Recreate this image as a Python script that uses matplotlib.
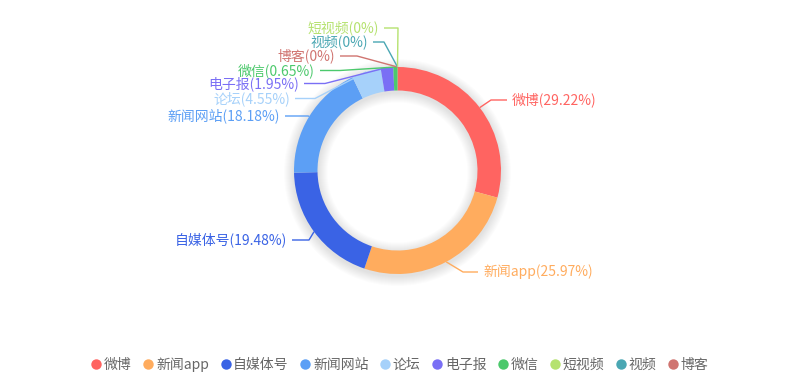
import matplotlib
matplotlib.use("Agg")
import matplotlib.pyplot as plt
from matplotlib.patches import Wedge
from matplotlib.lines import Line2D
import numpy as np

plt.rcParams['font.family'] = ['Noto Sans CJK SC', 'DejaVu Sans']

categories = ['微博', '新闻app', '自媒体号', '新闻网站', '论坛', '电子报', '微信', '博客', '视频', '短视频']
values = [29.22, 25.97, 19.48, 18.18, 4.55, 1.95, 0.65, 0.0, 0.0, 0.0]
colors = ['#FF6461', '#FFAC5E', '#3A63E5', '#5C9FF5', '#A6D1FA', '#7A6FF5', '#4CC96C', '#D07470', '#4AA7B3', '#B5E26F']
legend_order = ['微博', '新闻app', '自媒体号', '新闻网站', '论坛', '电子报', '微信', '短视频', '视频', '博客']

# layout (pixel coordinates, y downwards): text anchor x, y, elbow x, side
label_layout = {
    '微博':   (512, 100, 491, 'left'),
    '新闻app': (483, 272, 463, 'left'),
    '自媒体号': (287, 240, 309, 'right'),
    '新闻网站': (280, 116, 308, 'right'),
    '论坛':   (290, 98.5, 315, 'right'),
    '电子报':  (299, 83.5, 325, 'right'),
    '微信':   (315, 70.5, 340, 'right'),
    '博客':   (335, 56, 357, 'right'),
    '视频':   (368, 42, 384, 'right'),
    '短视频':  (379, 28, 398, 'right'),
}

W, H = 799, 382
fig = plt.figure(figsize=(W / 100, H / 100), dpi=100)
ax = fig.add_axes([0, 0, 1, 1])
ax.set_xlim(0, W)
ax.set_ylim(H, 0)
ax.axis('off')

cx, cy = 397.5, 170.5
R, r = 103.5, 80.0

# soft shadow
for k in range(10, 0, -1):
    ax.add_patch(Wedge((cx, cy + 2), R + k, 0, 360, width=(R - r) + 2 * k,
                       facecolor='black', alpha=0.012, edgecolor='none', zorder=1))

# ring: clockwise from top (y axis inverted)
total = sum(values)
start = -90.0
mids = []
for v, c in zip(values, colors):
    span = v / total * 360.0
    if span > 0:
        ax.add_patch(Wedge((cx, cy), R, start, start + span, width=R - r,
                           facecolor=c, edgecolor='none', zorder=2))
    mids.append(start + span / 2)
    start += span

# labels with leader lines
for cat, v, c, m in zip(categories, values, colors, mids):
    tx, ty, ex, side = label_layout[cat]
    ang = np.deg2rad(m)
    px, py = cx + R * np.cos(ang), cy + R * np.sin(ang)
    hx = tx - 5 if side == 'left' else tx + 5
    ax.plot([px, ex, hx], [py, ty, ty], color=c, lw=1, zorder=3, solid_capstyle='butt')
    ha = 'left' if side == 'left' else 'right'
    ax.text(tx, ty, f'{cat}({v:g}%)', color=c, fontsize=10,
            ha=ha, va='center', zorder=4)

# legend
cmap = dict(zip(categories, colors))
handles = [Line2D([0], [0], marker='o', linestyle='none', markersize=7.5,
                  markerfacecolor=cmap[n], markeredgecolor='none') for n in legend_order]
leg = fig.legend(handles, legend_order, loc='center', bbox_to_anchor=(399 / W, 1 - 365 / H),
                 ncol=10, frameon=False, handletextpad=0.05, columnspacing=0.7,
                 handlelength=1.0, prop={'size': 10})
for t in leg.get_texts():
    t.set_color('#666666')

fig.savefig('out.png', dpi=100, facecolor='white')
